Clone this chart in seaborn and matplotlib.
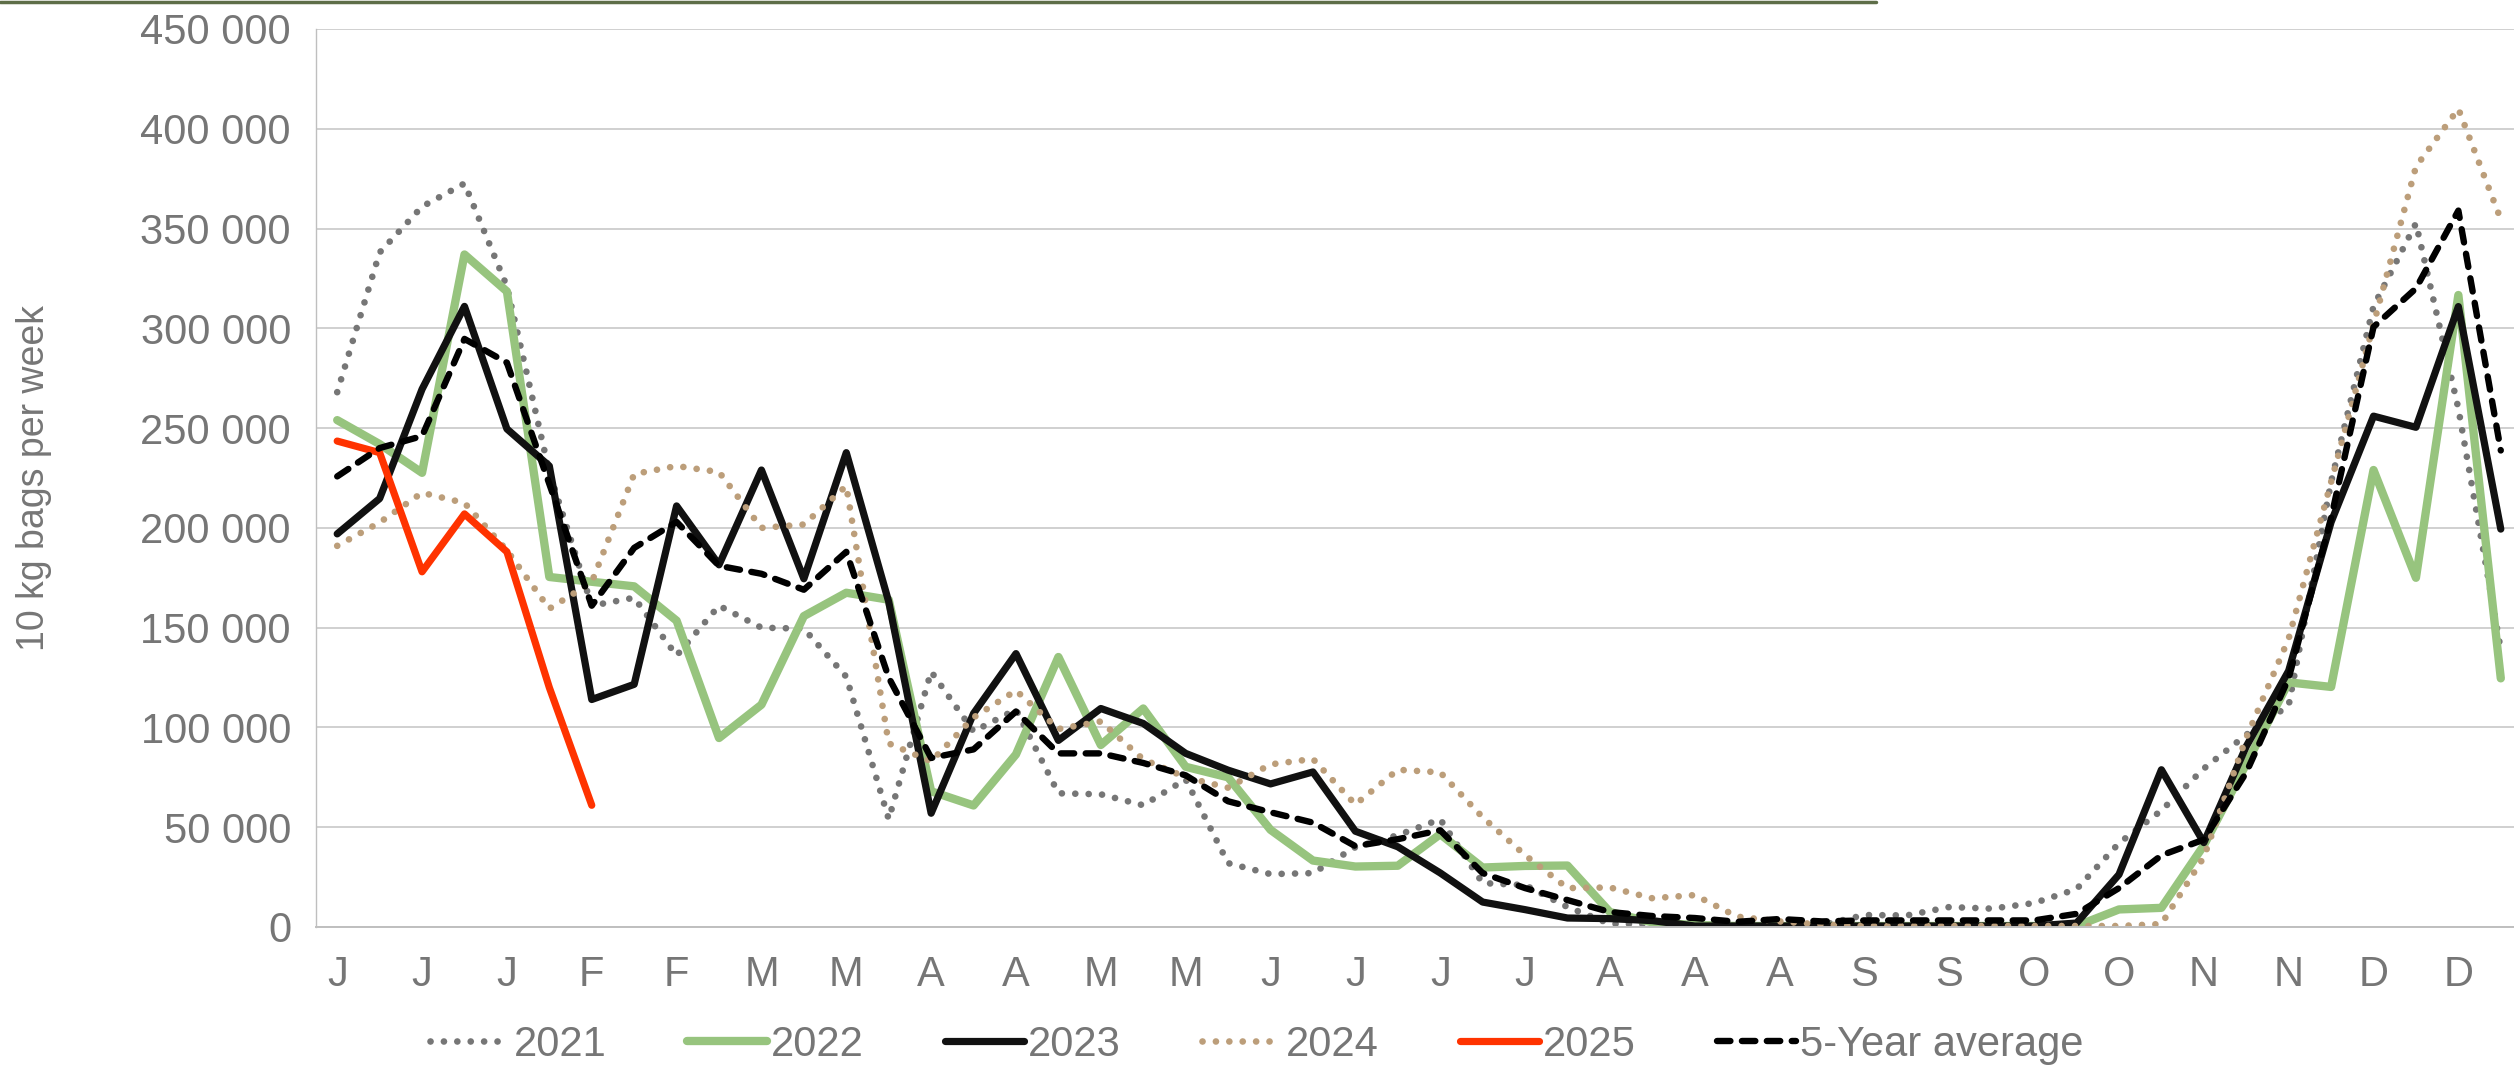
import numpy as np
import pandas as pd
import matplotlib.pyplot as plt
import seaborn as sns
from matplotlib.lines import Line2D
from matplotlib.ticker import FuncFormatter, FixedLocator

# weekly data, thousands of 10 kg bags
weeks = list(range(1, 53))
month_labels = ["J", "J", "J", "F", "F", "M", "M", "A", "A", "M", "M", "J", "J",
                "J", "J", "A", "A", "A", "S", "S", "O", "O", "N", "N", "D", "D"]

y2021 = [268, 338, 361, 372.6, 321, 228, 161, 165, 136, 161, 150, 149.5, 125.4,
         54, 128, 98, 109, 67, 66.5, 61, 74, 32, 26.5, 27, 40, 46, 54, 22, 21,
         10, 1.6, 1.5, 1, 1, 1, 1, 6, 5.8, 10, 9.2, 12, 19, 42, 58.4, 79.4, 96.3,
         111, 223, 311, 352.6, 259.8, 139]
y2022 = [254, 242, 227.6, 337, 318.5, 175.4, 173, 170.7, 153.5, 94.7, 111.4,
         155.8, 167.5, 164, 68, 60.9, 86.5, 135.3, 91.2, 109.5, 80.3, 75, 48.7,
         33.3, 30.3, 30.7, 46.5, 29.8, 30.6, 30.8, 7.5, 2.3, 1, 0.5, 0.5, 0.5,
         0.5, 0.5, 0.5, 0.5, 0.5, 0.5, 8.8, 9.6, 40.9, 81.7, 122.6, 120.3, 229,
         175, 316.7, 124.6]
y2023 = [197, 214.7, 269.5, 311, 249.6, 231, 114, 121.6, 211, 181.5, 229, 174.5,
         237.7, 163, 57, 107, 137, 93.5, 109.5, 102, 87, 78.6, 71.7, 77.7, 48,
         40.2, 27.1, 12.5, 8.7, 4.5, 4.2, 3.2, 0.5, 0.5, 0.5, 0.5, 0.5, 0.5, 0.5,
         0.5, 0.5, 2, 26.3, 78.8, 42.3, 90.5, 128.4, 202.9, 256, 250.4, 310.9,
         199.4]
y2024 = [191, 202.7, 217.6, 212.5, 188.7, 159.5, 172.8, 227, 231, 228, 200,
         201.7, 221, 92, 83, 105, 118.5, 99.2, 103, 84, 75, 69.8, 81.5, 84.2,
         61.4, 78.8, 77.5, 55, 36, 19.5, 19.8, 14.4, 16, 5.2, 2.8, 1.2, 0.5, 0.5,
         0.5, 0.5, 0.5, 0.5, 0.5, 1.5, 35, 94.9, 144.5, 223, 302, 381, 410, 354.6]
y2025 = [243.5, 237.7, 178, 207, 188, 120, 61]
y_avg = [225.8, 240, 246, 294.7, 282.8, 222, 161, 190, 203, 181, 177, 169, 188,
         125, 84.7, 89, 108, 87, 87, 82.2, 76, 63, 57.5, 52.3, 40.5, 44, 48.5,
         27, 19.5, 13.5, 7.5, 5.5, 4.5, 2.6, 4, 2.8, 3.3, 3.3, 3.3, 3.3, 3.3,
         6.6, 19.5, 35.9, 43.8, 77.4, 124.6, 205, 300.7, 320, 359, 238.8]

series = [
    ("2021", y2021, "#767676", 4.8, (0, (0.01, 2.0))),
    ("2022", y2022, "#97C47E", 6.0, "-"),
    ("2023", y2023, "#111111", 5.2, "-"),
    ("2024", y2024, "#BC9E7A", 4.8, (0, (0.01, 2.0))),
    ("2025", y2025, "#FF3300", 5.2, "-"),
    ("5-Year average", y_avg, "#000000", 4.6, (0, (2.1, 1.8))),
]

sns.set_style("white")
plt.rcParams["font.family"] = ["Liberation Sans", "DejaVu Sans"]
text_grey = "#767676"
grid_grey = "#D0D0D0"

W, H = 2514, 1068
fig = plt.figure(figsize=(W / 100, H / 100), dpi=100)
left, right, bottom, top = 316, 2522, 927, 29
ax = fig.add_axes([left / W, 1 - bottom / H, (right - left) / W, (bottom - top) / H])

for name, vals, color, lw, ls in series:
    x = weeks[:len(vals)]
    sns.lineplot(x=x, y=np.array(vals) * 1000, ax=ax, color=color, label=name)
    line = ax.get_lines()[-1]
    line.set_linewidth(lw)
    line.set_linestyle(ls)
    line.set_dash_capstyle("round")
    line.set_solid_capstyle("round")
    line.set_solid_joinstyle("round")

ax.set_xlim(0.5, 52.5)
ax.set_ylim(0, 450000)
ax.set_yticks(np.arange(0, 450001, 50000))
ax.yaxis.set_major_formatter(FuncFormatter(lambda v, p: f"{int(v):,}".replace(",", " ")))

label_pos = list(range(1, 52, 2))
ax.xaxis.set_major_locator(FixedLocator(label_pos))
ax.set_xticklabels(month_labels)
ax.xaxis.set_minor_locator(FixedLocator(np.arange(0.5, 53, 1)))

ax.tick_params(axis="x", which="major", length=0, pad=20, labelsize=30, labelcolor=text_grey)
ax.tick_params(axis="x", which="minor", length=9, width=1.2, color="#BFBFBF", direction="out")
ax.tick_params(axis="y", which="major", length=8, width=1.2, color="#BFBFBF", pad=10,
               labelsize=30, labelcolor=text_grey, direction="out")

ax.grid(axis="y", color=grid_grey, linewidth=1.4)
ax.set_axisbelow(True)
for s in ["top", "right"]:
    ax.spines[s].set_visible(False)
ax.spines["left"].set_color("#BFBFBF")
ax.spines["left"].set_linewidth(1.0)
ax.spines["bottom"].set_color("#BFBFBF")
ax.spines["bottom"].set_linewidth(1.4)

ax.set_xlabel("")
ax.set_ylabel("10 kg bags per week", fontsize=27, color=text_grey)
ax.yaxis.set_label_coords((52 - left) / (right - left), 0.5)

handles, labels = ax.get_legend_handles_labels()
ax.get_legend().remove()
fig.legend(handles, labels, loc="center", bbox_to_anchor=(0.5, 1 - 1045 / H), ncol=6,
           frameon=False, fontsize=30, labelcolor=text_grey, handlelength=1.9,
           handletextpad=0.1, columnspacing=1.95, borderaxespad=0)

# thin dark-green rule along the top edge
fig.add_artist(Line2D([0, 1876 / W], [1 - 1.5 / H, 1 - 1.5 / H], color="#5E6E48",
                      linewidth=2.5, transform=fig.transFigure))

fig.savefig("out.png", dpi=100)
